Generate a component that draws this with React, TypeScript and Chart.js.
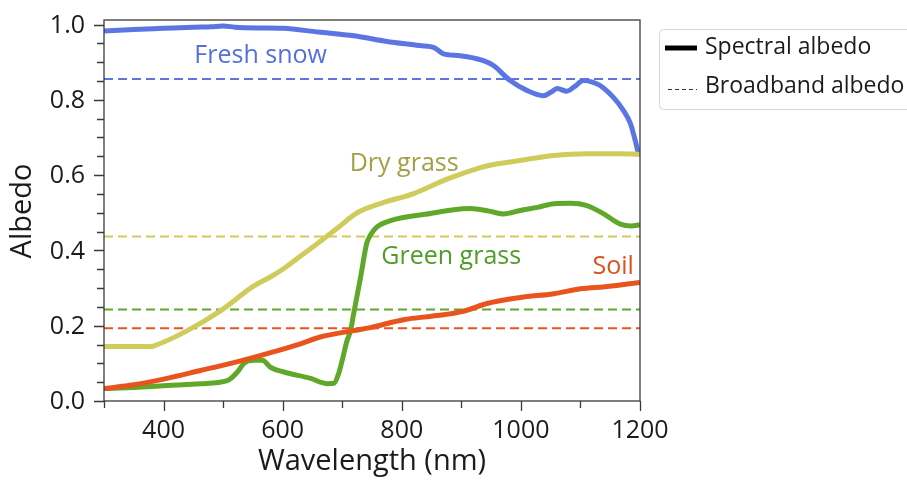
import React, { useEffect, useRef } from "react";
import { Chart, registerables } from "chart.js";

Chart.register(...registerables);

// Spectral albedo curves (wavelength in nm, albedo 0..1)
const snowWl = [300, 350, 400, 450, 480, 500, 520, 560, 600, 660, 720, 775, 830, 855, 870, 898, 937, 954, 982, 1010, 1038, 1050, 1061, 1077, 1090, 1105, 1120, 1133, 1155, 1172, 1184, 1192, 1197, 1200];
const snowAlbedo = [0.983, 0.987, 0.99, 0.993, 0.994, 0.996, 0.993, 0.991, 0.99, 0.98, 0.97, 0.955, 0.944, 0.938, 0.922, 0.917, 0.904, 0.891, 0.851, 0.825, 0.811, 0.82, 0.83, 0.823, 0.835, 0.851, 0.847, 0.838, 0.807, 0.772, 0.737, 0.692, 0.661, 0.655];

const dryWl = [300, 380, 383, 440, 496, 551, 580, 602, 630, 658, 691, 725, 765, 820, 877, 932, 950, 999, 1055, 1111, 1167, 1200];
const dryAlbedo = [0.145, 0.145, 0.146, 0.187, 0.24, 0.305, 0.33, 0.352, 0.385, 0.418, 0.458, 0.5, 0.525, 0.551, 0.59, 0.62, 0.627, 0.639, 0.652, 0.657, 0.657, 0.655];

const greenWl = [300, 350, 406, 462, 507, 524, 535, 551, 566, 580, 602, 647, 675, 686, 694, 700, 708, 714, 719, 731, 741, 747, 758, 781, 848, 887, 915, 945, 971, 999, 1030, 1055, 1083, 1111, 1139, 1167, 1185, 1200];
const greenAlbedo = [0.033, 0.036, 0.041, 0.046, 0.054, 0.077, 0.1, 0.108, 0.108, 0.089, 0.077, 0.06, 0.046, 0.047, 0.073, 0.108, 0.16, 0.187, 0.23, 0.33, 0.418, 0.44, 0.462, 0.479, 0.498, 0.508, 0.511, 0.505, 0.497, 0.506, 0.515, 0.524, 0.525, 0.519, 0.497, 0.47, 0.465, 0.468];

const soilWl = [300, 350, 406, 462, 518, 574, 630, 663, 719, 747, 803, 859, 903, 943, 999, 1055, 1100, 1145, 1200];
const soilAlbedo = [0.033, 0.043, 0.06, 0.081, 0.102, 0.126, 0.152, 0.17, 0.187, 0.195, 0.216, 0.227, 0.238, 0.259, 0.275, 0.285, 0.298, 0.304, 0.315];

// Broadband albedo of each surface
const surfaceNames = ["Fresh snow", "Dry grass", "Green grass", "Soil"];
const broadbandAlbedo = [0.855, 0.437, 0.243, 0.193];
const lineColors = ["#5b76e2", "#cfcc5c", "#5fa82a", "#e8531e"];
const labelColors = ["#5470dc", "#a3a044", "#4f9c26", "#d9531e"];
// label anchor (wavelength, albedo) for each surface name
const labelWl = [563, 804, 883, 1155];
const labelAlbedo = [0.918, 0.631, 0.384, 0.357];

const wlRange = [300, 1200];
const yTickValues = [0, 0.2, 0.4, 0.6, 0.8, 1.0];
const yTickLabels = ["0.0", "0.2", "0.4", "0.6", "0.8", "1.0"];
const legendLabels = ["Spectral albedo", "Broadband albedo"];

const FONT = "'Open Sans', 'Noto Sans', sans-serif";
const TEXT = "#1b1b1b";
const AXIS = "#3a3a3a";

const toPoints = (xs: number[], ys: number[]) => xs.map((x, i) => ({ x, y: ys[i] }));

const decorPlugin = {
  id: "decor",
  afterDatasetsDraw(chart: any) {
    const { ctx } = chart;
    const xs = chart.scales.x;
    const ys = chart.scales.y;
    ctx.save();
    ctx.font = `25px ${FONT}`;
    ctx.textAlign = "center";
    ctx.textBaseline = "middle";
    surfaceNames.forEach((name, i) => {
      ctx.fillStyle = labelColors[i];
      ctx.fillText(name, xs.getPixelForValue(labelWl[i]), ys.getPixelForValue(labelAlbedo[i]));
    });
    ctx.restore();
  },
  afterDraw(chart: any) {
    const { ctx, chartArea: a } = chart;
    const xs = chart.scales.x;
    const ys = chart.scales.y;
    ctx.save();
    // frame
    ctx.strokeStyle = AXIS;
    ctx.lineWidth = 1.3;
    ctx.strokeRect(a.left, a.top, a.right - a.left, a.bottom - a.top);
    // y ticks, major every 0.2, minor every 0.05
    ctx.beginPath();
    for (let k = 0; k <= 20; k++) {
      const v = k * 0.05;
      const py = Math.round(ys.getPixelForValue(v)) + 0.5;
      const len = k % 4 === 0 ? 10 : 7;
      ctx.moveTo(a.left, py);
      ctx.lineTo(a.left - len, py);
    }
    // x ticks, major every 200, minor every 100
    for (let w = wlRange[0]; w <= wlRange[1]; w += 100) {
      const px = Math.round(xs.getPixelForValue(w)) + 0.5;
      const len = w % 200 === 0 ? 10 : 7;
      ctx.moveTo(px, a.bottom);
      ctx.lineTo(px, a.bottom + len);
    }
    ctx.stroke();

    // y tick labels
    ctx.fillStyle = TEXT;
    ctx.font = `25px ${FONT}`;
    ctx.textAlign = "right";
    ctx.textBaseline = "middle";
    yTickValues.forEach((v, i) => {
      ctx.fillText(yTickLabels[i], a.left - 19, ys.getPixelForValue(v) + 1);
    });

    // axis titles
    ctx.font = `29px ${FONT}`;
    ctx.textAlign = "center";
    ctx.fillText("Wavelength (nm)", (a.left + a.right) / 2, 462);
    ctx.save();
    ctx.translate(23, 211);
    ctx.rotate(-Math.PI / 2);
    ctx.fillText("Albedo", 0, 0);
    ctx.restore();

    // legend
    const lx = 659, ly = 29, lw = 260, lh = 80;
    ctx.fillStyle = "#ffffff";
    ctx.strokeStyle = "#d6d6d6";
    ctx.lineWidth = 1;
    ctx.beginPath();
    ctx.roundRect(lx + 0.5, ly + 0.5, lw, lh, 4);
    ctx.fill();
    ctx.stroke();
    ctx.strokeStyle = "#000000";
    ctx.lineWidth = 5;
    ctx.beginPath();
    ctx.moveTo(665, 48);
    ctx.lineTo(697, 48);
    ctx.stroke();
    ctx.lineWidth = 1;
    ctx.strokeStyle = "#333333";
    ctx.setLineDash([4, 3]);
    ctx.beginPath();
    ctx.moveTo(668, 89.5);
    ctx.lineTo(697, 89.5);
    ctx.stroke();
    ctx.setLineDash([]);
    ctx.fillStyle = TEXT;
    ctx.font = `23px ${FONT}`;
    ctx.textAlign = "left";
    ctx.textBaseline = "middle";
    ctx.fillText(legendLabels[0], 705, 47);
    ctx.fillText(legendLabels[1], 705, 86);
    ctx.restore();
  },
};

export default function App() {
  const ref = useRef<HTMLCanvasElement>(null);

  useEffect(() => {
    if (!ref.current) return;
    const spectral = [
      toPoints(snowWl, snowAlbedo),
      toPoints(dryWl, dryAlbedo),
      toPoints(greenWl, greenAlbedo),
      toPoints(soilWl, soilAlbedo),
    ];
    const curveSets = spectral.map((pts, i) => ({
      label: surfaceNames[i],
      data: pts,
      borderColor: lineColors[i],
      borderWidth: 5,
      pointRadius: 0,
      cubicInterpolationMode: "monotone" as const,
      borderJoinStyle: "round" as const,
      order: 4 - i,
    }));
    const flatSets = broadbandAlbedo.map((v, i) => ({
      label: surfaceNames[i] + " broadband",
      data: [
        { x: wlRange[0], y: v },
        { x: wlRange[1], y: v },
      ],
      borderColor: lineColors[i],
      borderWidth: 2,
      borderDash: [9, 5],
      pointRadius: 0,
      order: 10,
    }));

    const chart = new Chart(ref.current, {
      type: "line",
      data: { datasets: [...curveSets, ...flatSets] as any },
      options: {
        animation: false,
        responsive: false,
        devicePixelRatio: 1,
        layout: { padding: { top: 20, right: 267, left: 0, bottom: 0 } },
        plugins: { legend: { display: false }, tooltip: { enabled: false } },
        scales: {
          x: {
            type: "linear",
            min: wlRange[0],
            max: wlRange[1],
            grid: { display: false, drawTicks: false },
            border: { display: false },
            ticks: {
              stepSize: 200,
              includeBounds: false,
              padding: 15,
              color: TEXT,
              font: { family: FONT, size: 25 },
              maxRotation: 0,
              callback: (v: any) => String(Math.round(Number(v))),
            },
            afterFit: (s: any) => {
              s.height = 80;
            },
          },
          y: {
            type: "linear",
            min: 0,
            max: 1.012,
            grid: { display: false, drawTicks: false },
            border: { display: false },
            ticks: { display: false },
            afterFit: (s: any) => {
              s.width = 104;
            },
          },
        },
      },
      plugins: [decorPlugin],
    });
    return () => chart.destroy();
  }, []);

  return (
    <div style={{ position: "fixed", left: 0, top: 0, width: 907, height: 481, background: "#fff" }}>
      <canvas ref={ref} width={907} height={481} />
    </div>
  );
}
